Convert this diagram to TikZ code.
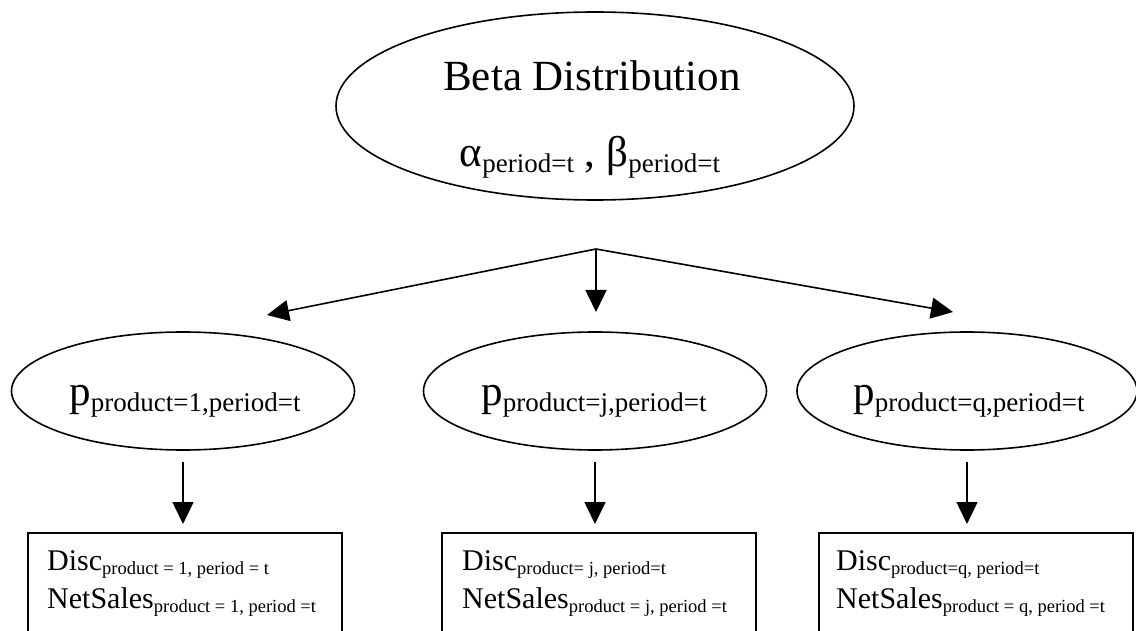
\documentclass[tikz,border=0pt]{standalone}
\usepackage{fontspec}
\setmainfont{Liberation Serif}
\usetikzlibrary{shapes.geometric, positioning, arrows.meta}
\newcommand{\lowsub}[3]{\raisebox{-#2pt}{\fontsize{#1}{#1}\selectfont #3}}
\newcommand{\bigsub}[1]{\lowsub{27}{6}{#1}}
\newcommand{\boxsub}[1]{\lowsub{18.5}{4}{#1}}

\begin{document}
\begin{tikzpicture}[
				x=1pt, y=-1pt,
				oval/.style={ellipse, draw=black, line width=1.6pt, inner sep=0pt},
				block/.style={rectangle, draw=black, line width=1.8pt, anchor=north west, minimum width=314pt, minimum height=130pt},
				arrow/.style={-{Triangle[length=22pt, width=21pt]}, line width=1.6pt},
				big/.style={anchor=base, inner sep=0pt, font=\fontsize{43}{43}\selectfont},
				boxtext/.style={anchor=base west, inner sep=0pt, font=\fontsize{30}{30}\selectfont}
				]
				\clip (0,0) rectangle (1136,631);
				% Nodes
				\node (beta) [oval, minimum width=518pt, minimum height=188pt] at (595,106) {};
				\node (betatitle) [big] at (592,91) {Beta Distribution};
				\node (betapar) [big] at (590,167) {α\bigsub{period=t} , β\bigsub{period=t}};
				
				\node (pone) [oval, minimum width=343pt, minimum height=118pt] at (183,391) {};
				\node (ptwo) [oval, minimum width=343pt, minimum height=118pt] at (595,391) {};
				\node (pthree) [oval, minimum width=340pt, minimum height=118pt] at (967,391) {};
				\node (plabelone) [big] at (185,405) {p\bigsub{product=1,period=t}};
				\node (plabeltwo) [big] at (594,405) {p\bigsub{product=j,period=t}};
				\node (plabelthree) [big] at (969,405) {p\bigsub{product=q,period=t}};
				
				\node (dboxone) [block] at (27,532) {};
				\node (dboxtwo) [block] at (441,532) {};
				\node (dboxthree) [block] at (818,532) {};
				\node (discone) [boxtext] at (47,570) {Disc\boxsub{product = 1, period = t}};
				\node (netone) [boxtext] at (47,608) {NetSales\boxsub{product = 1, period =t}};
				\node (disctwo) [boxtext] at (462,570) {Disc\boxsub{product= j, period=t}};
				\node (nettwo) [boxtext] at (462,608) {NetSales\boxsub{product = j, period =t}};
				\node (discthree) [boxtext] at (836,570) {Disc\boxsub{product=q, period=t}};
				\node (netthree) [boxtext] at (836,608) {NetSales\boxsub{product = q, period =t}};
				
				% Arrows
				\coordinate (split) at (596,249);
				\coordinate (tipone) at (267,315);
				\coordinate (tiptwo) at (596,312);
				\coordinate (tipthree) at (953,312);
				\draw [arrow] (split) -- (tipone);
				\draw [arrow] (split) -- (tiptwo);
				\draw [arrow] (split) -- (tipthree);
				\draw [arrow] ([yshift=-11pt]pone.south) -- ([yshift=8pt]pone.south |- dboxone.north);
				\draw [arrow] ([yshift=-11pt]ptwo.south) -- ([yshift=8pt]ptwo.south |- dboxtwo.north);
				\draw [arrow] ([yshift=-11pt]pthree.south) -- ([yshift=8pt]pthree.south |- dboxthree.north);
			\end{tikzpicture}
\end{document}
